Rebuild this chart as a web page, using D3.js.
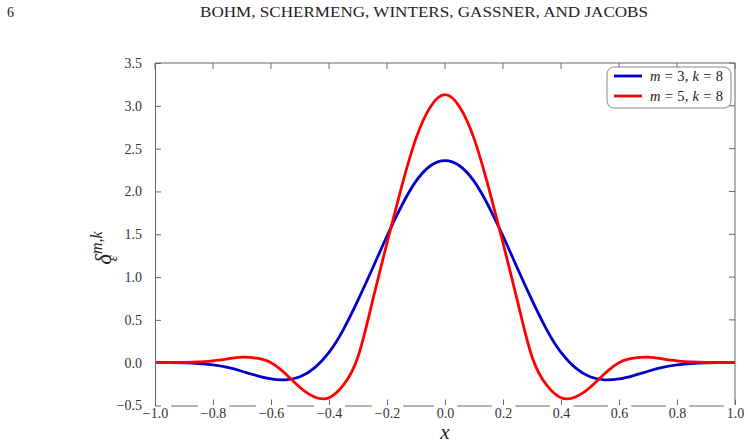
<html>
    <head>
        <meta charset="utf-8">
        <style>
        body {
            margin: 0;
            background: white;
        }

        svg text {
            font-family: 'Liberation Serif', 'DejaVu Serif', serif;
        }
        </style>
    </head>
    <body>
        <svg width="748" height="444"></svg>

        <script src="https://d3js.org/d3.v7.min.js"></script>

        <script>
            // sample points
            let xs = [-1.0, -0.95, -0.9, -0.85, -0.8, -0.75, -0.7, -0.65, -0.6, -0.55, -0.5, -0.45, -0.4, -0.35, -0.3, -0.25, -0.2, -0.15, -0.1, -0.05,
                      0.0, 0.05, 0.1, 0.15, 0.2, 0.25, 0.3, 0.35, 0.4, 0.45, 0.5, 0.55, 0.6, 0.65, 0.7, 0.75, 0.8, 0.85, 0.9, 0.95, 1.0]

            let blueVals = [0.0, 0.0, -0.003, -0.01, -0.026, -0.055, -0.10, -0.15, -0.19, -0.20, -0.165, -0.06, 0.12, 0.39, 0.73, 1.10, 1.48, 1.83, 2.12, 2.30,
                            2.36, 2.30, 2.12, 1.83, 1.48, 1.10, 0.73, 0.39, 0.12, -0.06, -0.165, -0.20, -0.19, -0.15, -0.10, -0.055, -0.026, -0.01, -0.003, 0.0, 0.0]

            let redVals = [0.0, 0.0, 0.002, 0.008, 0.022, 0.045, 0.064, 0.052, 0.0, -0.13, -0.29, -0.40, -0.41, -0.26, 0.07, 0.72, 1.40, 2.05, 2.62, 2.99,
                           3.13, 2.99, 2.62, 2.05, 1.40, 0.72, 0.07, -0.26, -0.41, -0.40, -0.29, -0.13, 0.0, 0.052, 0.064, 0.045, 0.022, 0.008, 0.002, 0.0, 0.0]

            let xTicks = [-1.0, -0.8, -0.6, -0.4, -0.2, 0.0, 0.2, 0.4, 0.6, 0.8, 1.0]
            let yTicks = [-0.5, 0.0, 0.5, 1.0, 1.5, 2.0, 2.5, 3.0, 3.5]

            let seriesNames = [["3", "8"], ["5", "8"]]
            let seriesColors = ["#0000cc", "#ff0000"]

            let serif = "'Liberation Serif', 'DejaVu Serif', serif"

            let svg = d3.select("svg")

            let x = d3.scaleLinear().domain([-1, 1]).range([155, 735])
            let y = d3.scaleLinear().domain([-0.5, 3.5]).range([405.5, 63])

            let fmt = d => d3.format(".1f")(d).replace("-", "\u2212")

            // page header
            svg.append("text")
                .attr("x", 7).attr("y", 17)
                .style("font-size", "14px").style("fill", "#222")
                .text("6")

            svg.append("text")
                .attr("x", 424).attr("y", 17)
                .attr("text-anchor", "middle")
                .attr("textLength", 448)
                .attr("lengthAdjust", "spacingAndGlyphs")
                .style("font-size", "14.5px").style("fill", "#222")
                .text("BOHM, SCHERMENG, WINTERS, GASSNER, AND JACOBS")

            // frame: top / right spines + ticks
            let frame = svg.append("g").style("stroke", "#666").style("stroke-width", 1)
            frame.append("line").attr("x1", 155).attr("x2", 735).attr("y1", 63).attr("y2", 63)
            frame.append("line").attr("x1", 735).attr("x2", 735).attr("y1", 63).attr("y2", 405.5)
            frame.selectAll(".ttick").data(xTicks).enter().append("line")
                .attr("x1", d => x(d)).attr("x2", d => x(d)).attr("y1", 63).attr("y2", 69)
            frame.selectAll(".rtick").data(yTicks).enter().append("line")
                .attr("x1", 735).attr("x2", 729).attr("y1", d => y(d)).attr("y2", d => y(d))

            // curves
            let line = d3.line().curve(d3.curveNatural)

            let lines = svg.append("g")
            ;[blueVals, redVals].forEach((vals, i) => {
                lines.append("path")
                    .attr("d", line(xs.map((v, j) => [x(v), y(vals[j])])))
                    .style("fill", "none")
                    .style("stroke", seriesColors[i])
                    .style("stroke-width", 2.8)
                    .style("stroke-linejoin", "round")
            })

            // bottom axis, labels sit on white boxes that break the spine
            let xAxis = svg.append("g")
                .attr("transform", "translate(0,405.5)")
                .call(d3.axisBottom(x).tickValues(xTicks).tickFormat(fmt).tickSize(-6).tickPadding(3).tickSizeOuter(0))
            xAxis.select(".domain").attr("stroke", "#666")
            xAxis.selectAll(".tick line").attr("stroke", "#666")
            xAxis.selectAll(".tick text")
                .style("font-family", serif).style("font-size", "14px").style("fill", "#333")
            xAxis.selectAll(".tick").each(function () {
                let t = d3.select(this).select("text")
                let b = t.node().getBBox()
                d3.select(this).insert("rect", "text")
                    .attr("x", b.x - 3).attr("y", -0.5)
                    .attr("width", b.width + 6).attr("height", b.height + 3)
                    .style("fill", "white")
            })

            // left axis (after the bottom one so -0.5 is not hidden)
            let yAxis = svg.append("g")
                .attr("transform", "translate(155,0)")
                .call(d3.axisLeft(y).tickValues(yTicks).tickFormat(fmt).tickSize(-6).tickPadding(13).tickSizeOuter(0))
            yAxis.select(".domain").attr("stroke", "#666")
            yAxis.selectAll(".tick line").attr("stroke", "#666")
            yAxis.selectAll(".tick text")
                .style("font-family", serif).style("font-size", "14px").style("fill", "#333")

            // axis titles
            svg.append("text")
                .attr("x", 445).attr("y", 439)
                .attr("text-anchor", "middle")
                .style("font-size", "21px").style("font-style", "italic").style("fill", "#222")
                .text("x")

            let ylab = svg.append("text")
                .attr("transform", "translate(111,248) rotate(-90)")
                .attr("text-anchor", "middle")
                .style("fill", "#222")
            ylab.append("tspan").style("font-size", "23px").style("font-style", "italic").text("\u03b4")
            ylab.append("tspan").attr("dy", -9).style("font-size", "16px").style("font-style", "italic").text("m,k")
            ylab.append("tspan").attr("dx", -30).attr("dy", 15).style("font-size", "15px").style("font-style", "italic").text("\u03b5")

            // legend
            let legend = svg.append("g")
            legend.append("rect")
                .attr("x", 607).attr("y", 67).attr("width", 124).attr("height", 41)
                .attr("rx", 7)
                .style("fill", "white").style("stroke", "#888").style("stroke-width", 1)

            seriesNames.forEach((s, i) => {
                let ly = 76 + i * 20
                legend.append("line")
                    .attr("x1", 614).attr("x2", 642).attr("y1", ly).attr("y2", ly)
                    .style("stroke", seriesColors[i]).style("stroke-width", 2.8)
                let t = legend.append("text")
                    .attr("x", 650).attr("y", ly + 4.5)
                    .attr("textLength", 73)
                    .style("font-size", "14.5px").style("fill", "#222")
                t.append("tspan").style("font-style", "italic").text("m")
                t.append("tspan").text(" = " + s[0] + ", ")
                t.append("tspan").style("font-style", "italic").text("k")
                t.append("tspan").text(" = " + s[1])
            })
        </script>
    </body>
</html>
